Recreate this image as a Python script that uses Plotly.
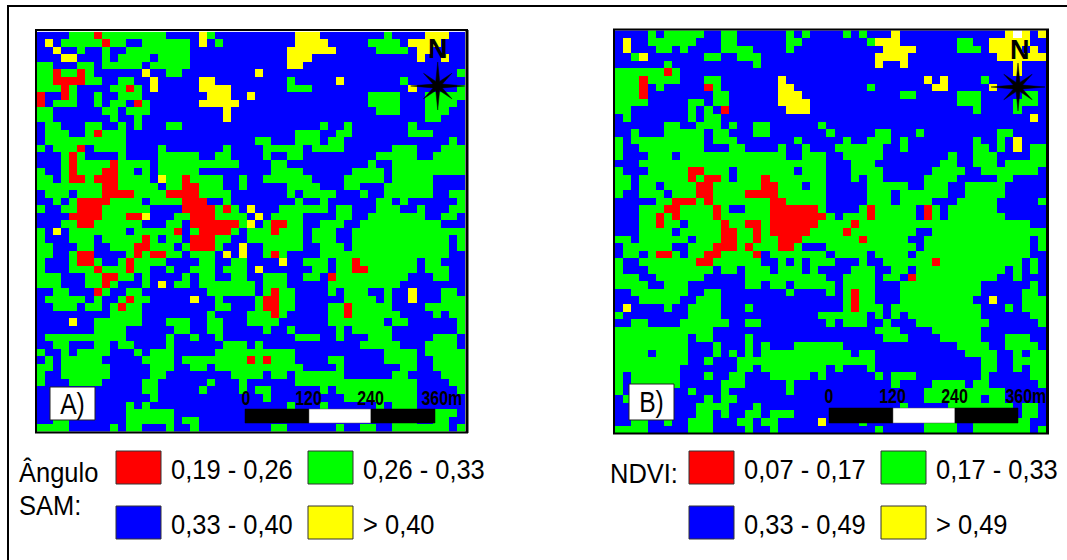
import math
import numpy as np
import plotly.graph_objects as go

W, H = 1067, 560
N_ROWS, N_COLS = 53, 53
CLASS_CODES = {"R": 0, "G": 1, "B": 2, "Y": 3, "W": 4}
CLASS_COLORS = ["#ff0000", "#00ff00", "#0000ff", "#ffff00", "#ffffff"]

SAM_ROWS = [
    "G4-6 R7 G8-15 Y20 G21 Y32-34 G43 Y48-50",
    "Y1 G3-7 R8 G9-10 G13-18 Y20 G22 Y32-35 G41-44 Y46-49",
    "Y2 G5 G8 G11-18 Y31-36 G42-45 Y47-48",
    "Y3-4 G8 G10-13 G15-18 Y31-33 Y47 Y50",
    "G0-1 G5-6 G8-12 G14-18 Y31-32",
    "G0-1 R2 G3-4 R5 G6 Y13 G16-17 Y27 G52",
    "G0-1 R2-5 G6-7 G10-11 Y14 Y20-21 G31 Y37 G45",
    "G0-2 R3 G4 G9-10 R11 G12 Y14 Y20-23 G31-33 Y46 G52",
    "R0 R3 G4 G7 G10-12 Y21-23 Y26 G41-44 G48-52",
    "R0 G2-4 G7 G9-10 R12 G13 Y20-24 G41-44 G48-51",
    "G0-1 G8-9 G11-13 Y23 G42-44 G48-50",
    "G0-1 G9 G12 Y23 G48-49",
    "G1-2 G6-7 G10 G12 G16-17 G35 G38 G46",
    "G1-3 G6 R7 G8-10 G32-34 G37-38 G46-48",
    "G1-10 G27-28 G32-34 G36-37 G51",
    "G0 G2-4 R5 G7-10 G15 G23 G28-32 G34-37 G44-46 G50-52",
    "G3 R4 G5 G10 G15-19 G22-23 G28 G31-32 G42-46 G49-52",
    "G3 R4 G5-8 R9 G10-13 G15-24 G29-30 G41 G44-52",
    "G0 G3 R4 G5-7 R8-9 G10-11 G13 G15-19 G29-32 G39-42 G44-52",
    "G0-1 G3 R4-5 G6 R7-9 G10-13 Y15 G16-17 R18 G19-22 G25 G28-33 G38-42 G44-48",
    "G0-7 R8-9 G10-14 G16-17 R18-19 G20-22 G25 G31-34 G38-39 G43-48",
    "G1-3 G5-7 R8-11 G12-15 R16-19 G20-23 G31 G33-36 G40 G43-48 G51-52",
    "G2 G4 R5-8 G9-12 G14-17 R18-20 G23 G32 G35 G42-43 G45 G52",
    "G0 G3-4 R5-7 G8-13 R18-21 G22 R23 G24 Y26 G30-35 G37-38 G42-44 G47 G51-52",
    "R4-7 G8-10 R11-12 Y13 G17-18 R19-21 G22-25 Y27 G29-32 G37-38 G41-47 G50-51",
    "G3-4 R5-6 G7-12 G16-17 R19-24 G25 Y26 G28 R29-30 G31-32 G35-37 G40-49",
    "G0 Y2 G4-10 G12-16 R17 G19 R20-23 G24 G26-28 R29 G30-32 G34-36 G39-52",
    "G0 G4-6 G8-12 R13 G14 G16-17 R19-21 G22-23 G26-32 G34-36 G39-50 G52",
    "G0-1 G5-6 G9-11 R12-13 G14-16 G18 R19-21 G22 Y25 G28-32 G35-37 G39-50 G52",
    "G0-1 G4 R5-6 G11 R12 G13 R14-15 G16-17 G19-21 Y23 Y25 G28 R29 G30 G35-50",
    "G0 G4 R5-6 G7 G10 R11 G12-15 G20-21 G24-25 Y30 G33-35 G37-38 R39 G40-46 G48-49",
    "G0 G4-6 R7 G8-10 R11 G12-13 G16 G19-21 G23-25 Y27 G34-35 G37-38 R39-40 G41-46 G48-50",
    "G0-2 G6-7 R8-9 G10-11 G13 G18 G20-21 G24-25 G28-30 G33-34 R36 G37-45 G49-50",
    "G0-2 G6-7 R8 G9 G13 Y15 G17-18 G20-26 G28-30 G36-44",
    "G2-3 R7 G8 G11-12 G21-26 G28 R29 G30-31 G36 G38-40 G43 Y46 G50-51",
    "G1-5 G7 G10 R11 G12-13 Y19 G22 G27 R28-29 G30-31 G38-41 G43 Y46 G50-52",
    "G2-4 G6-7 G9 R10 G11-12 G22-23 G27 R28-29 G30-31 G36-37 R38 G39-43 G48-52",
    "G9-12 G21 G26-28 R29 G30 G36-37 R38 G39-44 G49 G51-52",
    "Y4 G7-12 G16-18 G21-22 G26-29 G36-42 G44-45 G52",
    "G7-10 G17-18 G21-22 G28 G31 G37 G39-43 G52",
    "G1-10 G16 G19 G22 G32-34 G37 G41-43 G49-51",
    "G2-3 G7-8 G10-11 G16 G23-25 G27 G40-44 G48-51",
    "G0 G3 G5-8 G12 G14-16 G22-31 G43-46 G48-52",
    "G1 G3-7 G13-16 G18-25 R26 G27 R28 G29-31 G36-37 G43-46 G49-52",
    "G0-1 G3-8 G14-16 G19-20 G22-32 G37 G45-46 G49-52",
    "G0 G3-8 G14-15 G24-27 G29-30 G32-37 G44-45 G50-52",
    "G0 G4-7 G13-14 G21 G25 G32-46 G51-52",
    "G13-14 G20 G25 G27-28 G35 G37-46 G52",
    "G14 G28 G38-46",
    "G11 G13 G31 G35 G42 G44-46",
    "G11-16 G44-46 G49-51",
    "G2-3 G11-16 G18-19 G44-46 G49-50",
    "G0-3 G9 G11-12 G16 G19 G29-30 G37 G40-41 G44-50 G52",
]

NDVI_ROWS = [
    "G4 G6-10 G13-14 G21 G23 G28 G30 Y34 Y48 W49 Y50 Y52",
    "Y1 G4-9 G13-14 G21-22 G31 Y32-34 G42-43 Y46-50",
    "Y1 G5-6 G8 G13-16 G21 Y33-36 G42-44 Y46-49 Y51",
    "G2 Y3 G11-12 G15-17 Y32-35 Y47-52",
    "G6 G17 Y32 Y35 Y49",
    "G0-5 R6 G7 Y49",
    "G0-2 R3 G4-7 G11-12 Y20 Y38 Y40 G45",
    "G0-2 R3 G5 R11 G12 Y20-21 G31 Y39-40 Y46",
    "G0-2 R3 G12-13 Y20-22 G35-36 G42-44 G50-51",
    "G0-3 G9-10 G12-13 Y20-23 G42-44 G49-51",
    "G0-1 G9 G11 R13 Y21-23 G44 G49",
    "G1 G9 G11-12 Y51",
    "G6-7 G10-12 G14 G17-18 G25",
    "G2 G6-10 G12-13 G17-18 G26 G32-33 G37 G47-48",
    "G0 G2-10 G12-14 G22 G28 G31-33 G35 G44 G47 Y49",
    "G0 G3-10 G14-15 G20 G23 G27-32 G35 G44-45 G47 Y49 G51-52",
    "G0 G4-6 G8-20 G23-25 G28-32 G41 G44-46 G51-52",
    "G3-25 G29-31 G40-41 G44-46 G48-52",
    "G0 G4-8 R9-10 G11-13 G15-21 G23-25 G29-32 G39-42 G45-51",
    "G0-1 G3-8 R9 G10 R11-12 G13 G15-17 R18 G19-25 G29 G31-32 G38-41 G47-48",
    "G0-1 G3-4 G6-9 R10-11 G12-17 R18-19 G20-22 G24-25 G31-35 G38-40 G43-47",
    "G0 G3-5 G7-9 R10-11 G12-15 R16-19 G20-25 G31-33 G35-40 G43-47",
    "G5-6 R7-9 G10 R11 G12-18 R19-20 G21-25 G31-33 G35-38 G42-46 G52",
    "G3-5 R6-7 G8-11 R12 G13 G16-18 R19-24 G25 G30 R31 G32-36 R38 G39 G41-46",
    "G3-4 R5 G6 R7 G8-11 R12 G13-18 R19-25 G26 G28-30 R31 G32-36 R38 G39 G41-47",
    "G3-4 R5 G6-7 G9-12 R13 G14-15 R16-17 G18 R19-24 G25-28 R29 G30-50",
    "G3-6 G8-12 R13-14 G15-16 R17 G18 R19-23 G24-27 R28 G29-36 G39-52",
    "G0-1 G3-8 G10-12 R13-14 G15-16 R17 G18-19 R20-22 G23-29 R30 G31-35 G38-50 G52",
    "G1-6 G9-11 R12-14 G15 R16 G17-19 R20-21 G22 G26-36 G38-50 G52",
    "G1-2 G4 R5-6 G7 G9-10 R11-12 G13-16 R17 G19-25 G27-30 G32-35 G37-50",
    "G0 G3-9 R10-11 G12-17 G20 G22 G24-26 G30 G33-38 R39 G40-49 G51",
    "G0 G4-11 G13-14 G16-18 G20-22 G24 G29-31 G34-35 G37-47 G49 G51",
    "G0-2 G5-10 G16-25 G28-31 G33-34 R36 G37-46 G49",
    "G0-3 G6-8 G16-17 G19-20 G22-26 G28-31 G35-44 G51",
    "G2-8 G11-12 G21 G26 G28 R29 G30-31 G35-44 G50-51",
    "G3-7 G10-12 G28 R29 G30-31 G35-43 Y46 G50-52",
    "Y1 G6 G9-12 G16 G28 R29 G30-32 G34-44 G48 G50-52",
    "G0 G9-12 G25-30 G32 G34 G36-44 G51-52",
    "G2-3 G8-13 G16-17 G26 G28-30 G33 G37-45 G52",
    "G0-11 G32-34 G39-44",
    "G0-8 G10-11 G16 G33-35 G40-44 G48-50",
    "G0-8 G12 G16 G18 G22-27 G42-45 G48-51",
    "G0-3 G5-8 G12 G14 G16 G18-28 G30-31 G43-46 G49 G51-52",
    "G0-8 G11 G15-31 G45-46 G49-52",
    "G0-7 G15-16 G18-25 G27 G31 G45-46 G49 G51-52",
    "G0 G2-7 G11 G14-15 G19-23 G25 G32 G34-36 G45 G51-52",
    "G0 G2-7 G13-15 G21 G34 G39-42 G44-45 G52",
    "G0 G9 G13 G21 G38-47",
    "G1 G11 G13-14 G38-44 G46-47",
    "G10-13 G17 G35 G41-48 G50-51",
    "G10-11 G13 G16-17 G19-21 G50-51",
    "G2-3 G6 G9-11 G15-16 G18-19 Y25 G30 G38-41 G44-50",
    "G0-3 G9-11 G16 G19 G32 G38-41 G44-50 G52",
]

SAM_LEGEND = ["0,19 - 0,26", "0,26 - 0,33", "0,33 - 0,40", "> 0,40"]
NDVI_LEGEND = ["0,07 - 0,17", "0,17 - 0,33", "0,33 - 0,49", "> 0,49"]
SCALE_LABELS = ["0", "120", "240", "360m"]

FONT = "Liberation Sans, Arial, sans-serif"


def decode(rows):
    grid = np.full((N_ROWS, N_COLS), CLASS_CODES["B"], dtype=int)
    for r, spec in enumerate(rows):
        for tok in spec.split():
            code = CLASS_CODES[tok[0]]
            parts = tok[1:].split("-")
            a = int(parts[0])
            b = int(parts[-1])
            grid[r, a:b + 1] = code
    return grid


def X(px):
    return px / W


def Y(py):
    return 1 - py / H


n = len(CLASS_COLORS)
colorscale = []
for i, c in enumerate(CLASS_COLORS):
    colorscale += [[i / n, c], [(i + 1) / n, c]]

fig = go.Figure()
panels = [
    dict(rows=SAM_ROWS, box=(37, 31.7, 465, 431.7), ax=""),
    dict(rows=NDVI_ROWS, box=(615, 30.3, 1046, 433), ax="2"),
]
for p in panels:
    fig.add_trace(go.Heatmap(
        z=decode(p["rows"]), colorscale=colorscale, zmin=-0.5, zmax=n - 0.5,
        showscale=False, hoverinfo="skip",
        xaxis="x" + p["ax"], yaxis="y" + p["ax"],
    ))
    x0, y0, x1, y1 = p["box"]
    axis_common = dict(visible=False, showgrid=False, zeroline=False)
    fig.layout["xaxis" + p["ax"]] = dict(domain=[X(x0), X(x1)], range=[-0.5, N_COLS - 0.5], **axis_common)
    fig.layout["yaxis" + p["ax"]] = dict(domain=[Y(y1), Y(y0)], range=[N_ROWS - 0.5, -0.5], **axis_common)

shapes = []
annotations = []


def rect(x0, y0, x1, y1, fill=None, line="#000000", lw=1):
    shapes.append(dict(type="rect", xref="paper", yref="paper",
                       x0=X(x0), x1=X(x1), y0=Y(y0), y1=Y(y1),
                       fillcolor=fill if fill else "rgba(0,0,0,0)",
                       line=dict(color=line, width=lw), layer="above"))


def hline(x0, x1, y, color, lw):
    shapes.append(dict(type="line", xref="paper", yref="paper", x0=X(x0), x1=X(x1),
                       y0=Y(y), y1=Y(y), line=dict(color=color, width=lw), layer="above"))


def vline(x, y0, y1, color, lw):
    shapes.append(dict(type="line", xref="paper", yref="paper", x0=X(x), x1=X(x),
                       y0=Y(y0), y1=Y(y1), line=dict(color=color, width=lw), layer="above"))


def text(s, x, y, size, anchor="center", color="#000000", bold=False):
    annotations.append(dict(text=("<b>%s</b>" % s) if bold else s, x=X(x), y=Y(y), xref="paper", yref="paper",
                            showarrow=False, xanchor=anchor, yanchor="middle",
                            font=dict(family=FONT, size=size, color=color)))


def star(cx, cy):
    pts = []
    for k in range(16):
        ang = k * math.pi / 8
        if k % 4 == 0:
            rx, ry = 27, 24
        elif k % 4 == 2:
            rx, ry = 20, 18
        else:
            rx, ry = 5, 5
        pts.append((cx + rx * math.cos(ang), cy + ry * math.sin(ang)))
    path = "M " + " L ".join("%.5f %.5f" % (X(a), Y(b)) for a, b in pts) + " Z"
    shapes.append(dict(type="path", path=path, xref="paper", yref="paper",
                       fillcolor="#000000", line=dict(color="#000000", width=0.5), layer="above"))


# page frame (top and left rule)
hline(8, W, 6, "#000000", 2)
vline(8, 5, H, "#000000", 2)

# map A frame
hline(35, 468, 30, "#000000", 2)
vline(36, 30, 433, "#000000", 2)
vline(467, 30, 433, "#000000", 3)
hline(35, 468, 432.5, "#000000", 2)
# map B frame
hline(613, 1049, 29.5, "#000000", 2)
vline(614, 29, 434, "#000000", 2)
vline(1047.5, 29, 434, "#000000", 3)
hline(613, 1049, 433.5, "#000000", 2)

# scale bars
for (bx0, bw0, bw1, bx1, by0, by1) in [(245, 309, 371, 435, 409, 423), (829, 893, 955, 1018, 408, 423)]:
    rect(bx0, by0, bw0, by1, "#000000", "#000000", 0.5)
    rect(bw0, by0, bw1, by1, "#ffffff", "#555555", 0.5)
    rect(bw1, by0, bx1, by1, "#000000", "#000000", 0.5)
for xs, yy in [((246, 308, 370, 442), 397), ((829, 892, 954, 1026), 395)]:
    for lab, xx in zip(SCALE_LABELS, xs):
        text(lab, xx, yy, 21, bold=True)

# panel tags
rect(50, 387, 95, 420, "#ffffff", "#222222", 1)
text("A)", 72, 404, 29)
rect(629, 384, 674, 420, "#ffffff", "#222222", 1)
text("B)", 651, 402, 29)

# north arrows
text("N", 438, 49, 27, bold=True)
star(437.7, 86)
text("N", 1020, 50, 27, bold=True)
star(1018, 87)

# legends
for labels, sw, tx in [
    (SAM_LEGEND, (116, 308), (169, 361)),
    (NDVI_LEGEND, (689, 881), (742, 934)),
]:
    for i, lab in enumerate(labels):
        col = i % 2
        y0, y1 = (451, 484) if i < 2 else (506, 539)
        rect(sw[col], y0, sw[col] + 45, y1, CLASS_COLORS[i], "#333333", 1)
        text(lab, tx[col], (y0 + y1) / 2 + 2, 28, anchor="left")

text("Ângulo", 17, 472, 28, anchor="left")
text("SAM:", 17, 505, 28, anchor="left")
text("NDVI:", 608, 473, 28, anchor="left")

fig.update_layout(width=W, height=H, margin=dict(l=0, r=0, t=0, b=0, pad=0, autoexpand=False),
                  paper_bgcolor="#ffffff", plot_bgcolor="#ffffff", showlegend=False,
                  shapes=shapes, annotations=annotations)

# The reference lettering is condensed; squeeze the real text horizontally.
POST = """
document.body.style.margin='0';document.body.style.overflow='hidden';
document.querySelectorAll('text.annotation-text').forEach(function(t){
  var s=t.textContent, k=0.91, o='left center';
  if(['0','120','240','360m'].indexOf(s)>=0){k=0.76;o='center';}
  else if(s==='N'){k=1;o='center';}
  else if(s==='A)'||s==='B)'){k=0.85;o='center';}
  t.style.transformBox='fill-box';t.style.transformOrigin=o;t.style.transform='scaleX('+k+')';
});
"""
fig.write_html("out.html", post_script=POST, config={"displayModeBar": False})
